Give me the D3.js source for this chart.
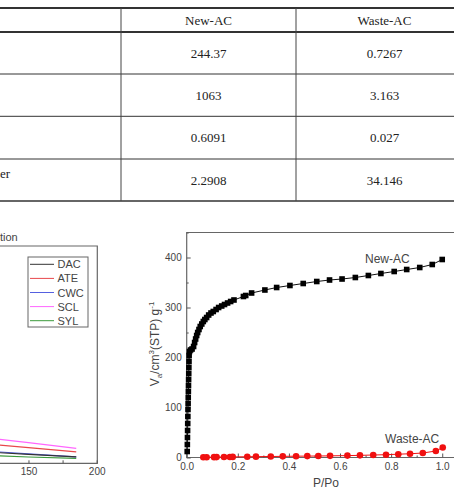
<!DOCTYPE html>
<html>
<head>
<meta charset="utf-8">
<script src="https://cdn.jsdelivr.net/npm/d3@7.9.0/dist/d3.min.js"></script>
<style>
  body { margin: 0; background: #fff; }
  svg { display: block; }
  .tbl text { font-family: 'Liberation Serif', 'Times New Roman', serif; font-size: 13px; fill: #222; }
  .plot text { font-family: 'Liberation Sans', Arial, sans-serif; fill: #444; }
</style>
</head>
<body>
<svg width="454" height="501"></svg>
<script>
// table (only the tail of the last row label is in view)
const tableCols = ['', 'New-AC', 'Waste-AC'];
const rowLabels = ['', '', '', 'er'];
const newACvals = ['244.37', '1063', '0.6091', '2.2908'];
const wasteACvals = ['0.7267', '3.163', '0.027', '34.146'];

// isotherm (right chart)
const newP = [0.002, 0.0025, 0.003, 0.0035, 0.004, 0.0045, 0.005, 0.0055, 0.006, 0.0065, 0.007, 0.0075, 0.008, 0.0085, 0.009, 0.0095,
  0.011, 0.015, 0.021, 0.027, 0.031, 0.035, 0.039, 0.043, 0.048, 0.053, 0.059, 0.065, 0.071, 0.078, 0.086, 0.095, 0.104, 0.115,
  0.125, 0.137, 0.148, 0.160, 0.172, 0.185, 0.222, 0.231, 0.254, 0.306, 0.352, 0.404, 0.456, 0.509, 0.559, 0.608, 0.660, 0.711,
  0.760, 0.812, 0.861, 0.912, 0.961, 1.0];
const newV = [12, 26, 40, 54, 68, 82, 96, 108, 120, 132, 144, 156, 168, 180, 192, 204,
  212, 215, 217, 222, 230, 237, 244, 250, 256, 262, 267, 272, 276, 280, 285, 289, 292, 296,
  300, 303, 306, 309, 312, 315, 322, 324, 329, 335, 340, 344, 348, 352, 355, 357, 360, 364,
  368, 372, 376, 380, 386, 396];
const wasteP = [0.065, 0.078, 0.107, 0.117, 0.146, 0.169, 0.18, 0.237, 0.271, 0.329, 0.376, 0.428, 0.472, 0.515, 0.561,
  0.629, 0.678, 0.73, 0.78, 0.828, 0.874, 0.924, 0.975, 1.002];
const wasteV = [0.5, 0.5, 0.7, 0.8, 1, 1, 1.2, 1.5, 1.7, 2, 2.3, 2.6, 2.8, 3, 3.3, 3.8, 4.3, 5, 5.6, 6.6, 7.5, 9, 13, 20];
const xTicks = [0, 0.2, 0.4, 0.6, 0.8, 1.0];
const yTicks = [0, 100, 200, 300, 400];

// left chart (only its right edge is in view)
const leftTime = [90, 120, 150, 185];
const series = ['DAC', 'ATE', 'CWC', 'SCL', 'SYL'];
const dac = [6.4, 5.2, 4.1, 3.0];
const ate = [10.5, 8.9, 7.2, 5.3];
const cwc = [6.9, 5.6, 4.3, 3.0];
const scl = [13.8, 11.7, 9.5, 6.9];
const syl = [4.5, 3.6, 2.9, 2.3];
const leftTicks = [150, 200];
const leftTitle = 'tion';
const seriesColors = ['#333333', '#e8474b', '#5560e0', '#ff66ff', '#3c9a3c'];

const svg = d3.select('svg');
svg.append('rect').attr('width', 454).attr('height', 501).attr('fill', '#fff');

// ---- table ----
const tbl = svg.append('g').attr('class', 'tbl');
const colX = [-110, 121, 296, 473];
const rowY = [8, 32, 74, 116.3, 159, 201];
[[8, 2], [32, 2], [74, 1], [116.3, 1], [159, 1], [201, 1.5]].forEach(([yy, w]) => {
  tbl.append('line').attr('x1', -10).attr('x2', 480).attr('y1', yy).attr('y2', yy)
    .attr('stroke', '#333').attr('stroke-width', w);
});
[121, 296].forEach(xx => {
  tbl.append('line').attr('x1', xx).attr('x2', xx).attr('y1', 8).attr('y2', 201)
    .attr('stroke', '#444').attr('stroke-width', 1);
});
tableCols.forEach((c, i) => {
  if (!c) return;
  tbl.append('text').attr('x', (colX[i] + colX[i + 1]) / 2).attr('y', (rowY[0] + rowY[1]) / 2 + 4.5)
    .attr('text-anchor', 'middle').text(c);
});
newACvals.forEach((v, r) => {
  const cy = (rowY[r + 1] + rowY[r + 2]) / 2 + 4.5;
  tbl.append('text').attr('x', (colX[1] + colX[2]) / 2).attr('y', cy).attr('text-anchor', 'middle').text(v);
  tbl.append('text').attr('x', (colX[2] + colX[3]) / 2).attr('y', cy).attr('text-anchor', 'middle').text(wasteACvals[r]);
  if (rowLabels[r]) {
    tbl.append('text').attr('x', 0).attr('y', cy - 7).text(rowLabels[r]);
  }
});

// ---- right chart: isotherms ----
const P = { left: 186.7, right: 455, top: 232.5, bottom: 457.5 };
const x = d3.scaleLinear().domain([0, 1.05]).range([P.left, P.right]);
const y = d3.scaleLinear().domain([0, 450]).range([P.bottom, P.top]);
const g = svg.append('g').attr('class', 'plot');

g.append('path').attr('d', `M${P.right},${P.top}H${P.left}V${P.bottom}H${P.right}`)
  .attr('fill', 'none').attr('stroke', '#666').attr('stroke-width', 1.2);

function styleAxis(a) {
  a.select('.domain').remove();
  a.attr('font-family', "'Liberation Sans', Arial, sans-serif");
  a.selectAll('line').attr('stroke', '#555');
  a.selectAll('text').attr('fill', '#444').attr('font-size', 10);
}
g.append('g').attr('transform', `translate(0,${P.bottom})`)
  .call(d3.axisBottom(x).tickValues(xTicks).tickFormat(d3.format('.1f')).tickSize(-4).tickPadding(5)).call(styleAxis);
g.append('g').attr('transform', `translate(0,${P.bottom})`)
  .call(d3.axisBottom(x).tickValues(xTicks.slice(0, -1).map(t => t + 0.1)).tickFormat('').tickSize(-2)).call(styleAxis);
g.append('g').attr('transform', `translate(${P.left},0)`)
  .call(d3.axisLeft(y).tickValues(yTicks).tickSize(-4).tickPadding(5)).call(styleAxis);
g.append('g').attr('transform', `translate(${P.left},0)`)
  .call(d3.axisLeft(y).tickValues(yTicks.map(t => t + 50)).tickFormat('').tickSize(-2)).call(styleAxis);

g.append('text').attr('x', 326).attr('y', 486.5).attr('text-anchor', 'middle').attr('font-size', 12).text('P/Po');
const yl = g.append('text').attr('transform', 'translate(159,344) rotate(-90)')
  .attr('text-anchor', 'middle').attr('font-size', 12);
yl.append('tspan').text('V');
yl.append('tspan').attr('font-size', 8).attr('dy', 3).text('a');
yl.append('tspan').attr('dy', -3).text('/cm');
yl.append('tspan').attr('font-size', 8).attr('dy', -5).text('3');
yl.append('tspan').attr('dy', 5).text('(STP) g');
yl.append('tspan').attr('font-size', 8).attr('dy', -5).text('-1');

const newData = d3.zip(newP, newV);
const wasteData = d3.zip(wasteP, wasteV);
const line = d3.line().x(d => x(d[0])).y(d => y(d[1]));

g.append('path').datum(newData).attr('d', line).attr('fill', 'none').attr('stroke', '#111').attr('stroke-width', 1);
g.selectAll('rect.sq').data(newData).join('rect').attr('class', 'sq')
  .attr('x', d => x(d[0]) - 2.8).attr('y', d => y(d[1]) - 2.8)
  .attr('width', 5.6).attr('height', 5.6).attr('fill', '#000');

g.append('path').datum(wasteData).attr('d', line).attr('fill', 'none').attr('stroke', '#f01010').attr('stroke-width', 1);
g.selectAll('circle.wc').data(wasteData).join('circle').attr('class', 'wc')
  .attr('cx', d => x(d[0])).attr('cy', d => y(d[1])).attr('r', 3.3).attr('fill', '#f01010');

g.append('text').attr('x', 365).attr('y', 263).attr('font-size', 12).text('New-AC');
g.append('text').attr('x', 385).attr('y', 443).attr('font-size', 12).text('Waste-AC');

// ---- left chart (cut off) ----
const L = { left: -200, right: 97.3, top: 246, bottom: 463.3 };
const lx = d3.scaleLinear().domain([0, 200]).range([-176.2, 96.7]);
const ly = d3.scaleLinear().domain([0, 100]).range([L.bottom, L.top]);
const lg = svg.append('g').attr('class', 'plot');

lg.append('path').attr('d', `M${L.left},${L.top}H${L.right}V${L.bottom}H${L.left}`)
  .attr('fill', 'none').attr('stroke', '#666').attr('stroke-width', 1.2);
lg.append('g').attr('transform', `translate(0,${L.bottom})`)
  .call(d3.axisBottom(lx).tickValues(leftTicks).tickSize(-3).tickPadding(5)).call(styleAxis);
lg.append('g').attr('transform', `translate(0,${L.bottom})`)
  .call(d3.axisBottom(lx).tickValues([175]).tickFormat('').tickSize(-3)).call(styleAxis);

const leftSeries = [dac, ate, cwc, scl, syl];
const lline = d3.line().x((d, i) => lx(leftTime[i])).y(d => ly(d));
[3, 1, 4, 2, 0].forEach(i => {
  lg.append('path').datum(leftSeries[i]).attr('d', lline).attr('fill', 'none')
    .attr('stroke', seriesColors[i]).attr('stroke-width', 1.2);
});

lg.append('text').attr('x', 0).attr('y', 240.5).attr('font-size', 11).text(leftTitle);

const leg = lg.append('g');
leg.append('rect').attr('x', 28).attr('y', 257).attr('width', 60).attr('height', 70)
  .attr('fill', '#fff').attr('stroke', '#666').attr('stroke-width', 1);
series.forEach((s, i) => {
  const yy = 264.3 + i * 14.1;
  leg.append('line').attr('x1', 30).attr('x2', 54).attr('y1', yy).attr('y2', yy)
    .attr('stroke', seriesColors[i]).attr('stroke-width', 1);
  leg.append('text').attr('x', 57.5).attr('y', yy + 4).attr('font-size', 11).text(s);
});
</script>
</body>
</html>
